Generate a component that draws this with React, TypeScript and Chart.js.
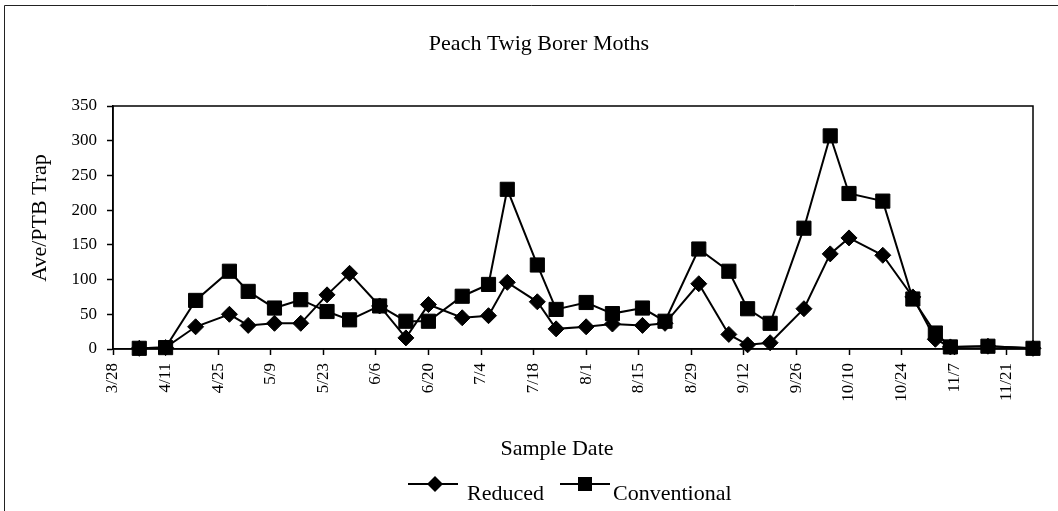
import { useEffect, useRef } from 'react';
import { Chart, registerables } from 'chart.js';

Chart.register(...registerables);

const chartTitle = 'Peach Twig Borer Moths';
const xAxisTitle = 'Sample Date';
const yAxisTitle = 'Ave/PTB Trap';
const seriesNames = ['Reduced', 'Conventional'];

const sampleDates = [
  '4/4', '4/11', '4/19', '4/28', '5/3', '5/10', '5/17', '5/24', '5/30', '6/7',
  '6/14', '6/20', '6/29', '7/6', '7/11', '7/19', '7/24', '8/1', '8/8', '8/16',
  '8/22', '8/31', '9/8', '9/13', '9/19', '9/28', '10/5', '10/10', '10/19', '10/27',
  '11/2', '11/6', '11/16', '11/28',
];

const reduced = [
  1, 2, 32, 50, 34, 37, 37, 78, 109, 62,
  16, 64, 45, 48, 96, 68, 29, 32, 36, 34,
  37, 94, 21, 6, 9, 58, 137, 160, 135, 75,
  14, 3, 4, 1,
];

const conventional = [
  1, 2, 70, 112, 83, 59, 71, 54, 42, 62,
  40, 40, 76, 93, 230, 121, 57, 67, 51, 59,
  40, 144, 112, 58, 37, 174, 307, 224, 213, 72,
  23, 3, 4, 1,
];

const tickLabels = [
  '3/28', '4/11', '4/25', '5/9', '5/23', '6/6', '6/20', '7/4', '7/18', '8/1',
  '8/15', '8/29', '9/12', '9/26', '10/10', '10/24', '11/7', '11/21',
];

const yMin = 0;
const yMax = 350;
const yStep = 50;

const FONT = '"Liberation Serif", "Times New Roman", serif';

const dayOf = (s: string) => {
  const [m, d] = s.split('/').map(Number);
  return Math.round((Date.UTC(2001, m - 1, d) - Date.UTC(2001, 2, 28)) / 86400000);
};

const decorPlugin = {
  id: 'decor',
  beforeDraw(chart: any) {
    const { ctx, width, height } = chart;
    ctx.save();
    ctx.fillStyle = '#fff';
    ctx.fillRect(0, 0, width, height);
    ctx.strokeStyle = '#222';
    ctx.lineWidth = 1;
    ctx.beginPath();
    ctx.moveTo(4.5, height);
    ctx.lineTo(4.5, 5.5);
    ctx.lineTo(width, 5.5);
    ctx.stroke();
    ctx.restore();
  },
  beforeDatasetsDraw(chart: any) {
    const { ctx, chartArea: a } = chart;
    ctx.save();
    ctx.strokeStyle = '#000';
    ctx.lineWidth = 1.5;
    ctx.strokeRect(a.left, a.top, a.right - a.left, a.bottom - a.top);
    ctx.restore();
  },
  afterDraw(chart: any) {
    const { ctx } = chart;
    ctx.save();
    ctx.fillStyle = '#000';
    ctx.font = `22px ${FONT}`;
    ctx.textAlign = 'center';
    ctx.textBaseline = 'alphabetic';
    ctx.fillText(chartTitle, 539, 50);
    ctx.fillText(xAxisTitle, 557, 455);

    ctx.save();
    ctx.translate(46, 218);
    ctx.rotate(-Math.PI / 2);
    ctx.fillText(yAxisTitle, 0, 0);
    ctx.restore();

    // legend
    const ly = 484;
    ctx.strokeStyle = '#000';
    ctx.lineWidth = 2;
    ctx.beginPath();
    ctx.moveTo(408, ly);
    ctx.lineTo(458, ly);
    ctx.moveTo(560, ly);
    ctx.lineTo(610, ly);
    ctx.stroke();
    // diamond
    ctx.beginPath();
    ctx.moveTo(435 - 8, ly);
    ctx.lineTo(435, ly - 8);
    ctx.lineTo(435 + 8, ly);
    ctx.lineTo(435, ly + 8);
    ctx.closePath();
    ctx.fill();
    // square
    ctx.fillRect(585 - 7, ly - 7, 14, 14);

    ctx.textAlign = 'left';
    ctx.fillText(seriesNames[0], 467, 500);
    ctx.fillText(seriesNames[1], 613, 500);
    ctx.restore();
  },
};

export default function App() {
  const canvasRef = useRef<HTMLCanvasElement | null>(null);

  useEffect(() => {
    const canvas = canvasRef.current;
    if (!canvas) return;
    const xs = sampleDates.map(dayOf);
    const tickDays = tickLabels.map(dayOf);
    const labelByDay: Record<number, string> = {};
    tickLabels.forEach((l, i) => { labelByDay[tickDays[i]] = l; });

    const chart = new Chart(canvas, {
      type: 'line',
      data: {
        datasets: [
          {
            label: seriesNames[0],
            data: xs.map((x, i) => ({ x, y: reduced[i] })),
            borderColor: '#000',
            borderWidth: 2,
            backgroundColor: '#000',
            pointStyle: 'rectRot',
            pointRadius: 8,
            pointBorderWidth: 1,
            pointBackgroundColor: '#000',
            pointBorderColor: '#000',
            tension: 0,
            clip: false as any,
          },
          {
            label: seriesNames[1],
            data: xs.map((x, i) => ({ x, y: conventional[i] })),
            borderColor: '#000',
            borderWidth: 2,
            backgroundColor: '#000',
            pointStyle: 'rect',
            pointRadius: 10,
            pointBorderWidth: 1,
            pointBackgroundColor: '#000',
            pointBorderColor: '#000',
            tension: 0,
            clip: false as any,
          },
        ],
      },
      options: {
        animation: false,
        responsive: false,
        maintainAspectRatio: false,
        events: [],
        layout: { padding: { left: 0, right: 25, top: 106, bottom: 102 } },
        plugins: {
          legend: { display: false },
          title: { display: false },
          tooltip: { enabled: false },
        },
        scales: {
          x: {
            type: 'linear',
            min: 0,
            max: xs[xs.length - 1],
            afterBuildTicks: (scale: any) => {
              scale.ticks = tickDays.map((v) => ({ value: v }));
            },
            afterFit: (scale: any) => { scale.height = 60; },
            grid: {
              display: true,
              drawOnChartArea: false,
              drawTicks: true,
              tickLength: 6,
              tickWidth: 1.5,
              tickColor: '#000',
              color: '#000',
            },
            border: { display: true, color: '#000', width: 1.5 },
            ticks: {
              autoSkip: false,
              maxRotation: 90,
              minRotation: 90,
              padding: 8,
              color: '#000',
              font: { family: FONT, size: 17 },
              callback: (v: any) => labelByDay[v as number] ?? '',
            },
          },
          y: {
            type: 'linear',
            min: yMin,
            max: yMax,
            afterFit: (scale: any) => { scale.width = 113; },
            grid: {
              display: true,
              drawOnChartArea: false,
              drawTicks: true,
              tickLength: 6,
              tickWidth: 1.5,
              tickColor: '#000',
              color: '#000',
            },
            border: { display: true, color: '#000', width: 1.5 },
            ticks: {
              stepSize: yStep,
              padding: 10,
              color: '#000',
              font: { family: FONT, size: 17 },
            },
          },
        },
      },
      plugins: [decorPlugin],
    });
    return () => chart.destroy();
  }, []);

  return (
    <div style={{ position: 'fixed', left: 0, top: 0, width: 1058, height: 511, overflow: 'hidden', background: '#fff' }}>
      <canvas ref={canvasRef} width={1058} height={511} style={{ display: 'block', width: 1058, height: 511 }} />
    </div>
  );
}
